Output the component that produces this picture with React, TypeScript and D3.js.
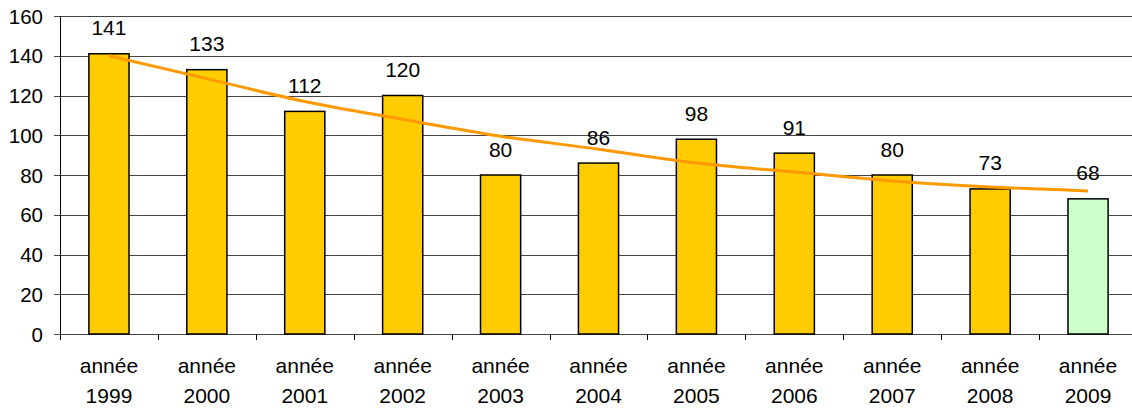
import React from 'react';
import * as d3 from 'd3';

const years = ['1999', '2000', '2001', '2002', '2003', '2004', '2005', '2006', '2007', '2008', '2009'];
const values = [141, 133, 112, 120, 80, 86, 98, 91, 80, 73, 68];
const trend = [140, 128.5, 117, 108, 99.5, 93, 86, 81.5, 77, 74, 72];
const yTicks = [0, 20, 40, 60, 80, 100, 120, 140, 160];

const App = () => {
  const width = 1132;
  const height = 411;
  const left = 60;
  const right = 1137;
  const top = 16;
  const bottom = 334;

  const x = d3.scaleBand().domain(years).range([left, right]).paddingInner(0.59).paddingOuter(0.295);
  const band = d3.scaleBand().domain(years).range([left, right]);
  const y = d3.scaleLinear().domain([0, 160]).range([bottom, top]);

  const line = d3
    .line<number>()
    .x((d, i) => (x(years[i]) as number) + x.bandwidth() / 2)
    .y((d) => y(d))
    .curve(d3.curveMonotoneX);

  const font = 'Liberation Sans, Arial, sans-serif';
  const crisp = (v: number) => Math.round(v) + 0.5;

  return (
    <svg width={width} height={height} style={{ position: 'absolute', left: 0, top: 0 }}>
      <rect x={0} y={0} width={width} height={height} fill="#fff" />
      {yTicks.map((t) => (
        <g key={t}>
          <line x1={left - 6} x2={right} y1={crisp(y(t))} y2={crisp(y(t))} stroke="#444" strokeWidth={1} />
          <text x={43} y={y(t) + 7.5} textAnchor="end" fontFamily={font} fontSize={20.5} fill="#000">
            {t}
          </text>
        </g>
      ))}
      <line x1={left + 0.5} x2={left + 0.5} y1={top} y2={bottom} stroke="#000" strokeWidth={1} />
      {years.map((yr) => (
        <line
          key={'t' + yr}
          x1={crisp(band(yr) as number)}
          x2={crisp(band(yr) as number)}
          y1={bottom}
          y2={bottom + 6}
          stroke="#000"
        />
      ))}
      {years.map((yr, i) => (
        <rect
          key={'b' + yr}
          x={x(yr)}
          y={y(values[i])}
          width={x.bandwidth()}
          height={bottom - y(values[i])}
          fill={i === years.length - 1 ? '#CCFFCC' : '#FFCC00'}
          stroke="#000"
          strokeWidth={1.5}
        />
      ))}
      <path d={line(trend) || ''} fill="none" stroke="#FF9900" strokeWidth={3} />
      {years.map((yr, i) => {
        const cx = (x(yr) as number) + x.bandwidth() / 2;
        return (
          <g key={'l' + yr} fontFamily={font} fontSize={21} fill="#000" textAnchor="middle">
            <text x={cx} y={y(values[i]) - 18.5}>{values[i]}</text>
            <text x={cx} y={373}>année</text>
            <text x={cx} y={403}>{yr}</text>
          </g>
        );
      })}
    </svg>
  );
};

export default App;
